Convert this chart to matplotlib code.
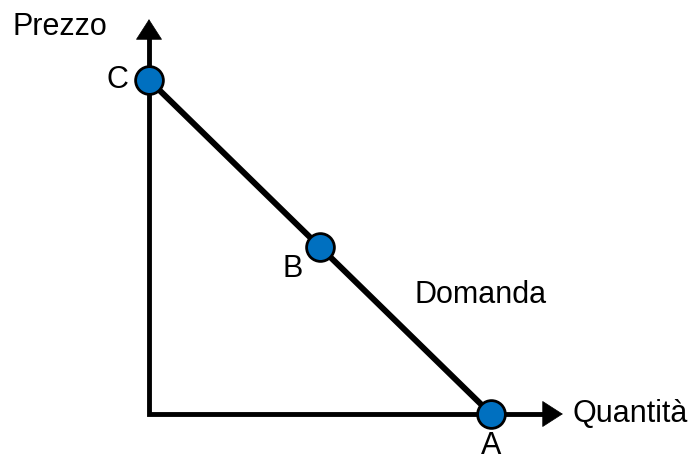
import matplotlib.pyplot as plt

# Demand curve points (quantity, price)
labels = ["C", "B", "A"]
quantity = [0, 5, 10]
price = [10, 5, 0]

# pixel scale: origin at (149, 414), 34.2 px per unit in x, 33.4 in y
W, H = 693, 459
ox, oy = 149, 414
sx, sy = 34.2, 33.4

plt.rcParams['font.family'] = ['Liberation Sans', 'DejaVu Sans']

fig = plt.figure(figsize=(W / 100, H / 100), dpi=100)
ax = fig.add_axes([0, 0, 1, 1])
ax.set_xlim(-ox / sx, (W - ox) / sx)
ax.set_ylim((oy - H) / sy, oy / sy)
ax.axis('off')

x_tip = 12.1
y_tip = 11.82

# axes: one polyline with a square corner, then the arrowheads
ax.plot([0, 0, x_tip - 0.3], [y_tip - 0.3, 0, 0], color='black', lw=3.5,
        solid_joinstyle='miter', solid_capstyle='projecting')
arrow = dict(arrowstyle='-|>,head_length=0.7,head_width=0.45', lw=0.5, color='black',
             mutation_scale=20, shrinkA=0, shrinkB=0)
ax.annotate('', xy=(x_tip, 0), xytext=(x_tip - 1, 0), arrowprops=arrow)
ax.annotate('', xy=(0, y_tip), xytext=(0, y_tip - 1), arrowprops=arrow)

# demand line and points
ax.plot(quantity, price, color='black', lw=4.3, solid_capstyle='butt', zorder=3)
ax.plot(quantity, price, 'o', ms=20, mfc='#0070C0', mec='black', mew=2, zorder=4)

# point labels
offsets = {"C": (-23, 0), "B": (-20, -16), "A": (0, -23)}
for lab, q, p in zip(labels, quantity, price):
    ax.annotate(lab, (q, p), xytext=offsets[lab], textcoords='offset points',
                ha='center', va='center', fontsize=22)

ax.text(-2.6, 11.6, "Prezzo", ha='center', va='center', fontsize=22)
ax.text(x_tip + 0.28, 0, "Quantità", ha='left', va='center', fontsize=22)
ax.text(9.7, 3.55, "Domanda", ha='center', va='center', fontsize=22)

fig.savefig('out.png', dpi=100)
